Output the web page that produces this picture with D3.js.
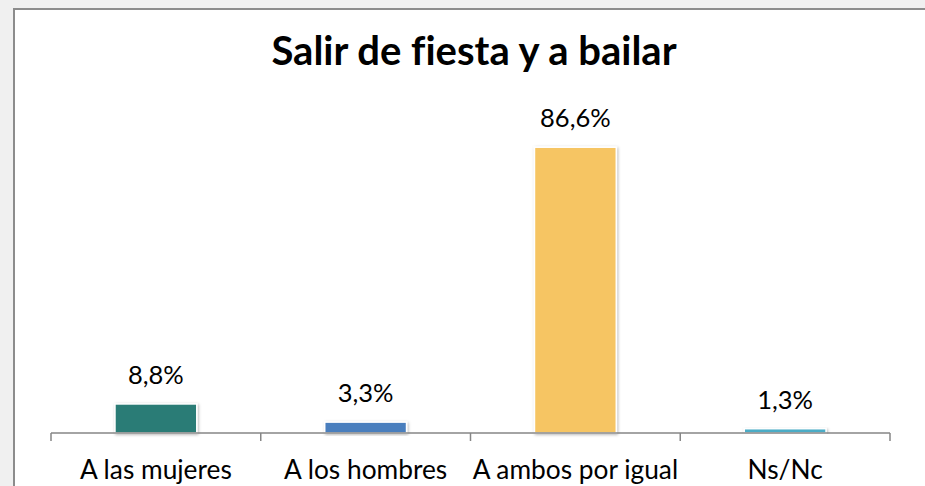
<!DOCTYPE html>
<html>
<head>
<meta charset="utf-8">
<script src="https://cdn.jsdelivr.net/npm/d3@7"></script>
<style>
  body { margin: 0; background: #f0f0f0; }
  svg { display: block; }
  text { font-variant-ligatures: none; }
</style>
</head>
<body>
<svg></svg>
<script>
// chart data
const categories = ["A las mujeres", "A los hombres", "A ambos por igual", "Ns/Nc"];
const values = [8.8, 3.3, 86.6, 1.3];
const bar_colors = ["#297b76", "#4a7ebd", "#f6c564", "#4bacc6"];
const chart_title = "Salir de fiesta y a bailar";

const width = 925, height = 486;
const font = "Lato, 'Open Sans', sans-serif";

var svg = d3.select("svg")
            .attr("width", width)
            .attr("height", height);

// drop shadow for the bars
var defs = svg.append("defs");
defs.append("filter")
    .attr("id", "shadow")
    .attr("x", "-20%").attr("y", "-20%")
    .attr("width", "140%").attr("height", "140%")
  .append("feDropShadow")
    .attr("dx", 1).attr("dy", 1)
    .attr("stdDeviation", 1.5)
    .attr("flood-color", "#000")
    .attr("flood-opacity", 0.3);

// outer frame
svg.append("rect")
   .attr("x", 14).attr("y", 9)
   .attr("width", width).attr("height", height)
   .attr("fill", "#fff")
   .attr("stroke", "#8c8c8c")
   .attr("stroke-width", 2);

svg.append("text")
   .attr("x", 474)
   .attr("y", 65)
   .attr("text-anchor", "middle")
   .attr("font-family", font)
   .attr("font-weight", "bold")
   .attr("font-size", 40)
   .attr("fill", "#000")
   .text(chart_title);

let x = d3.scaleBand()
          .domain(categories)
          .range([51, 890])
          .padding(0);

let y = d3.scaleLinear()
          .domain([0, 100])
          .range([433, 103]);

const barw = x.bandwidth() * 0.39;

var chart = svg.append("g");

chart.selectAll("rect.bar")
     .data(values)
     .enter()
     .append("rect")
     .attr("class", "bar")
     .attr("x", function(d, i) { return x(categories[i]) + (x.bandwidth() - barw) / 2; })
     .attr("y", function(d) { return y(d); })
     .attr("width", barw)
     .attr("height", function(d) { return y(0) - y(d); })
     .attr("fill", function(d, i) { return bar_colors[i]; })
     .attr("stroke", "#fff")
     .attr("stroke-width", 1.5)
     .attr("filter", "url(#shadow)");

// value labels
chart.selectAll("text.value")
     .data(values)
     .enter()
     .append("text")
     .attr("class", "value")
     .attr("x", function(d, i) { return x(categories[i]) + x.bandwidth() / 2; })
     .attr("y", function(d) { return y(d) - 20; })
     .attr("text-anchor", "middle")
     .attr("font-family", font)
     .attr("font-size", 25.5)
     .attr("fill", "#000")
     .text(function(d) { return d3.format(".1f")(d).replace(".", ",") + "%"; });

// x axis: line with ticks at the category boundaries
let axis_g = svg.append("g")
                .attr("transform", "translate(0," + y(0) + ")");

axis_g.append("line")
      .attr("x1", x.range()[0]).attr("x2", x.range()[1])
      .attr("stroke", "#868686")
      .attr("stroke-width", 1.5);

let edges = categories.map(c => x(c)).concat([x.range()[1]]);
axis_g.selectAll("line.tick")
      .data(edges)
      .enter()
      .append("line")
      .attr("class", "tick")
      .attr("x1", d => d).attr("x2", d => d)
      .attr("y1", 0).attr("y2", 8)
      .attr("stroke", "#868686")
      .attr("stroke-width", 1.5);

let label_axis = d3.axisBottom(x).tickSize(0).tickPadding(0);
let labels_g = svg.append("g")
                  .attr("transform", "translate(0," + y(0) + ")")
                  .call(label_axis);
labels_g.select(".domain").remove();
labels_g.selectAll("text")
        .attr("y", 46)
        .attr("dy", 0)
        .attr("font-family", font)
        .attr("font-size", 26.3)
        .attr("fill", "#000");
</script>
</body>
</html>
